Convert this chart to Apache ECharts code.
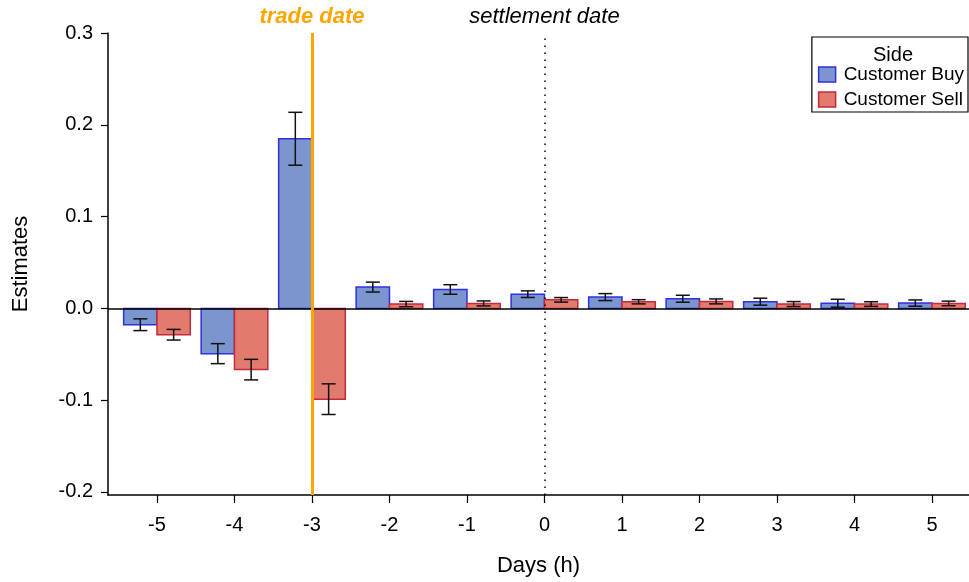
<!DOCTYPE html>
<html>
<head>
<meta charset="utf-8">
<script src="https://cdn.jsdelivr.net/npm/echarts@6/dist/echarts.min.js"></script>
<style>
  html, body { margin: 0; padding: 0; background: #fff; }
  #chart { width: 969px; height: 582px; }
</style>
</head>
<body>
<div id="chart"></div>
<script>
// Event-time days relative to settlement
const days = [-5, -4, -3, -2, -1, 0, 1, 2, 3, 4, 5];
const yTicks = [-0.2, -0.1, 0.0, 0.1, 0.2, 0.3];

// Estimates and half-widths of the error bars, per side
const buyEst  = [-0.0178, -0.0493, 0.1848, 0.0232, 0.0206, 0.0155, 0.0123, 0.0105, 0.0073, 0.0056, 0.0058];
const buyErr  = [0.0064, 0.0109, 0.0288, 0.0054, 0.0052, 0.0036, 0.0038, 0.0038, 0.0038, 0.0043, 0.0034];
const sellEst = [-0.0287, -0.0667, -0.0989, 0.0047, 0.0054, 0.0093, 0.0072, 0.0076, 0.0047, 0.0047, 0.0054];
const sellErr = [0.0058, 0.0112, 0.0167, 0.0029, 0.0027, 0.0025, 0.0023, 0.0027, 0.0027, 0.0025, 0.0025];

const tradeDay = -3;
const settlementDay = 0;

const FONT = 'Liberation Sans, Arial, sans-serif';
const BAR_FRAC = 0.43;

function barSeries(name, est, err, fill, stroke, side) {
  return {
    name: name,
    type: 'custom',
    itemStyle: { color: fill, borderColor: stroke, borderWidth: 1.5 },
    data: days.map((d, i) => [d, est[i], err[i]]),
    encode: { x: 0, y: 1 },
    z: 3,
    renderItem: function (params, api) {
      const x = api.value(0), v = api.value(1), e = api.value(2);
      const unit = api.size([1, 0])[0];
      const w = unit * BAR_FRAC;
      const base = api.coord([x, 0]);
      const top = api.coord([x, v]);
      const cx = base[0] + side * w / 2;
      const x0 = cx - w / 2;
      const yA = Math.min(base[1], top[1]);
      const h = Math.abs(base[1] - top[1]);
      const hi = api.coord([x, v + e])[1];
      const lo = api.coord([x, v - e])[1];
      const cap = 7;
      const lineStyle = { stroke: '#111', lineWidth: 1.5 };
      return {
        type: 'group',
        children: [
          { type: 'rect', shape: { x: x0, y: yA, width: w, height: h },
            style: { fill: fill, stroke: stroke, lineWidth: 1.5 } },
          { type: 'line', shape: { x1: cx, y1: hi, x2: cx, y2: lo }, style: lineStyle, z2: 5 },
          { type: 'line', shape: { x1: cx - cap, y1: hi, x2: cx + cap, y2: hi }, style: lineStyle, z2: 5 },
          { type: 'line', shape: { x1: cx - cap, y1: lo, x2: cx + cap, y2: lo }, style: lineStyle, z2: 5 }
        ]
      };
    }
  };
}

const chart = echarts.init(document.getElementById('chart'), null, { renderer: 'canvas' });

const buy = barSeries('Customer Buy', buyEst, buyErr, '#7b96cf', '#2f2fe0', -1);
const sell = barSeries('Customer Sell', sellEst, sellErr, '#e07b6e', '#c42a3c', 1);

// Reference lines: zero line, trade date, settlement date
buy.markLine = {
  silent: true,
  symbol: 'none',
  label: { show: false },
  data: [
    { yAxis: 0, lineStyle: { color: '#000', width: 1.5, type: 'solid' } }
  ]
};
sell.markLine = {
  silent: true,
  symbol: 'none',
  z: 6,
  data: [
    { xAxis: tradeDay,
      lineStyle: { color: '#ffa500', width: 3, type: 'solid' },
      label: { show: true, position: 'end', formatter: 'trade date', color: '#ffa500',
               fontFamily: FONT, fontSize: 22, fontStyle: 'italic', fontWeight: 'bold', distance: 5 } },
    { xAxis: settlementDay,
      lineStyle: { color: '#000', width: 1.5, type: [1.5, 5.5] },
      label: { show: true, position: 'end', formatter: 'settlement date', color: '#000',
               fontFamily: FONT, fontSize: 22, fontStyle: 'italic', distance: 5 } }
  ]
};

const option = {
  backgroundColor: '#fff',
  animation: false,
  textStyle: { fontFamily: FONT },
  grid: { left: 108, right: 0, top: 33, bottom: 86, containLabel: false },
  title: {
    text: 'Side',
    left: 888, top: 40, textAlign: 'center',
    textStyle: { fontFamily: FONT, fontSize: 20, fontWeight: 'normal', color: '#000' }
  },
  legend: {
    orient: 'vertical',
    right: 1, top: 37,
    padding: [28, 4, 3, 6],
    itemGap: 6,
    itemWidth: 17, itemHeight: 15,
    borderColor: '#000', borderWidth: 1.2, borderRadius: 0,
    backgroundColor: '#fff',
    icon: 'rect',
    textStyle: { fontFamily: FONT, fontSize: 19, color: '#000', padding: [0, 0, 0, 3] },
    data: [
      { name: 'Customer Buy', itemStyle: { color: '#7b96cf', borderColor: '#2f2fe0', borderWidth: 1.5 } },
      { name: 'Customer Sell', itemStyle: { color: '#e07b6e', borderColor: '#c42a3c', borderWidth: 1.5 } }
    ]
  },
  xAxis: {
    type: 'value',
    min: -5.632, max: 5.478,
    name: 'Days (h)',
    nameLocation: 'middle',
    nameGap: 60,
    nameTextStyle: { fontFamily: FONT, fontSize: 22, color: '#000' },
    splitLine: { show: false },
    axisLine: { show: true, onZero: false, lineStyle: { color: '#000', width: 1.5 } },
    axisTick: { show: true, length: 8, lineStyle: { color: '#000', width: 1.2 }, customValues: days },
    axisLabel: { color: '#000', fontSize: 20, fontFamily: FONT, margin: 20, customValues: days,
                 formatter: v => String(v) }
  },
  yAxis: {
    type: 'value',
    min: -0.2033, max: 0.3,
    name: 'Estimates',
    nameLocation: 'middle',
    nameGap: 76,
    nameRotate: 90,
    nameTextStyle: { fontFamily: FONT, fontSize: 22, color: '#000' },
    splitLine: { show: false },
    axisLine: { show: true, onZero: false, lineStyle: { color: '#000', width: 1.5 } },
    axisTick: { show: true, length: 7, lineStyle: { color: '#000', width: 1.2 }, customValues: yTicks },
    axisLabel: { color: '#000', fontSize: 20, fontFamily: FONT, margin: 15, customValues: yTicks,
                 formatter: v => v.toFixed(1) }
  },
  series: [buy, sell]
};

chart.setOption(option);
</script>
</body>
</html>
